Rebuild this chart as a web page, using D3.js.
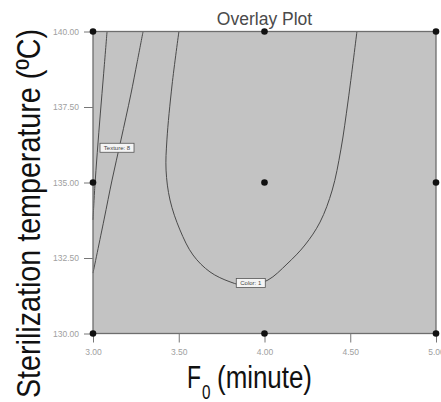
<!DOCTYPE html>
<html>
<head>
<meta charset="utf-8">
<script src="https://cdn.jsdelivr.net/npm/d3@7/dist/d3.min.js"></script>
<style>
  html, body { margin: 0; padding: 0; background: #fff; }
  svg { display: block; }
</style>
</head>
<body>
<svg id="chart" width="441" height="402"></svg>
<script>
// Design levels (3x3 factorial with centre point)
const f0Levels = [3.0, 4.0, 5.0];
const tempLevels = [130, 135, 140];

// Tick values
const xTicks = [3.0, 3.5, 4.0, 4.5, 5.0];
const yTicks = [130, 132.5, 135, 137.5, 140];

// Contour traces: [F0, temperature]
const contourA = [[3.082, 140], [3.062, 138.6], [3.043, 137.3], [3.025, 136.0], [3.010, 134.8], [3.0, 133.76]];
const contourB = [[3.292, 140], [3.258, 139.0], [3.220, 137.9], [3.163, 136.41], [3.111, 135.08], [3.064, 133.76], [3.0, 132.0]];
const contourC = [
  [3.501, 140], [3.461, 138.23], [3.431, 136.41], [3.426, 135.41], [3.449, 134.42],
  [3.507, 133.43], [3.583, 132.60], [3.682, 132.04], [3.799, 131.71], [3.904, 131.57],
  [4.020, 131.77], [4.131, 132.30], [4.236, 132.93], [4.324, 133.69], [4.395, 134.75],
  [4.445, 136.08], [4.488, 137.73], [4.539, 140]
];

// Contour flags: [F0, temperature, text]
const flags = [[3.14, 136.15, "Texture: 8"], [3.92, 131.67, "Color: 1"]];

const svg = d3.select("#chart");
const x = d3.scaleLinear().domain([3, 5]).range([93, 436]);
const y = d3.scaleLinear().domain([130, 140]).range([333.5, 31.5]);

// Plot background
svg.append("rect")
  .attr("x", x(3)).attr("y", y(140))
  .attr("width", x(5) - x(3)).attr("height", y(130) - y(140))
  .attr("fill", "#c3c3c3");

// Contours
const line = d3.line().x(d => x(d[0])).y(d => y(d[1])).curve(d3.curveCatmullRom);
[contourA, contourB, contourC].forEach(c => {
  svg.append("path").attr("d", line(c))
    .attr("fill", "none").attr("stroke", "#4a4a4a").attr("stroke-width", 1);
});

// Frame
svg.append("rect")
  .attr("x", x(3)).attr("y", y(140))
  .attr("width", x(5) - x(3)).attr("height", y(130) - y(140))
  .attr("fill", "none").attr("stroke", "#6e6e6e").attr("stroke-width", 1.3);

// Axes
const yAxis = svg.append("g").attr("transform", `translate(${x(3)},0)`)
  .call(d3.axisLeft(y).tickValues(yTicks).tickFormat(d3.format(".2f")).tickSize(9).tickPadding(5));
const xAxis = svg.append("g").attr("transform", `translate(0,${y(130)})`)
  .call(d3.axisBottom(x).tickValues(xTicks).tickFormat(d3.format(".2f")).tickSize(9).tickPadding(6));
[yAxis, xAxis].forEach(g => {
  g.select(".domain").remove();
  g.selectAll(".tick line").attr("stroke", "#777");
  g.selectAll(".tick text").attr("fill", "#a0a0a0")
    .style("font-family", "'Liberation Sans', sans-serif")
    .style("font-size", "8.5px");
});

// Flags on contours
flags.forEach(([fx, fy, txt]) => {
  const g = svg.append("g").attr("transform", `translate(${x(fx)},${y(fy)})`);
  const w = txt.length > 8 ? 34 : 29;
  g.append("rect").attr("x", -w / 2).attr("y", -4.5).attr("width", w).attr("height", 9)
    .attr("fill", "#f4f4f4").attr("stroke", "#555").attr("stroke-width", 0.8);
  g.append("text").attr("text-anchor", "middle").attr("y", 2.2)
    .style("font-family", "'Liberation Sans', sans-serif").style("font-size", "6px")
    .attr("fill", "#444").text(txt);
});

// Design points
const pts = [];
f0Levels.forEach(a => tempLevels.forEach(b => pts.push([a, b])));
svg.selectAll("circle.pt").data(pts).enter().append("circle")
  .attr("class", "pt").attr("cx", d => x(d[0])).attr("cy", d => y(d[1]))
  .attr("r", 3.3).attr("fill", "#111");

// Title
svg.append("text").attr("x", (x(3) + x(5)) / 2).attr("y", 25)
  .attr("text-anchor", "middle").attr("fill", "#4a4a4a")
  .style("font-family", "'Liberation Sans', Arial, sans-serif").style("font-size", "17.5px")
  .text("Overlay Plot");

// Axis titles (condensed by textLength)
const sans = "'Liberation Sans', Arial, sans-serif";
svg.append("text")
  .attr("transform", "translate(40,213.5) rotate(-90)")
  .attr("text-anchor", "middle").attr("fill", "#111")
  .attr("textLength", 369).attr("lengthAdjust", "spacingAndGlyphs")
  .style("font-family", sans).style("font-size", "33px")
  .text("Sterilization temperature (ºC)");

const xTitleParts = [
  { t: "F", x: 187, y: 387.5, size: 31, len: 14 },
  { t: "0", x: 202, y: 399, size: 20, len: 8.5 },
  { t: "(minute)", x: 217, y: 387.5, size: 31, len: 95 }
];
svg.selectAll("text.xtitle").data(xTitleParts).enter().append("text")
  .attr("class", "xtitle")
  .attr("x", d => d.x).attr("y", d => d.y)
  .attr("textLength", d => d.len).attr("lengthAdjust", "spacingAndGlyphs")
  .attr("fill", "#111").style("font-family", sans)
  .style("font-size", d => d.size + "px")
  .text(d => d.t);
</script>
</body>
</html>
